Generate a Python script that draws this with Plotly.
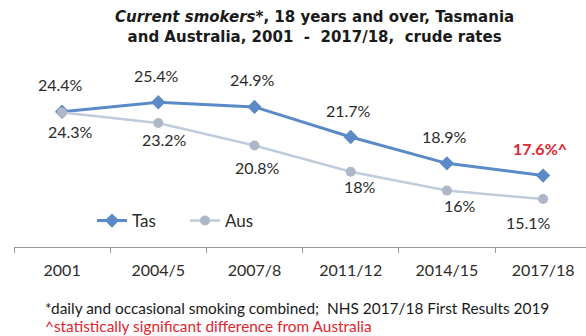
import plotly.graph_objects as go

# Survey periods and crude rates (%) of current smokers, 18 years and over
periods = ["2001", "2004/5", "2007/8", "2011/12", "2014/15", "2017/18"]
tas_rates = [24.4, 25.4, 24.9, 21.7, 18.9, 17.6]
aus_rates = [24.3, 23.2, 20.8, 18.0, 16.0, 15.1]
# Tasmanian estimates that differ significantly from Australia
tas_significant = [False, False, False, False, False, True]

# Offsets (px) for the Australian value labels
aus_label_dx = [8, 6, 3, 9, 13, -15]
aus_label_dy = [-19, -17, -22, -15, -15, -23]

TAS_COLOR = "#5A8BC6"
AUS_LINE = "#BFCCDB"
AUS_MARK = "#AEB7C7"
TEXT = "#2B2B2B"
RED = "#E0262E"
FONT = "Lato, 'Open Sans', sans-serif"
TITLE_FONT = "'DejaVu Sans', sans-serif"

# Plot area geometry (px) used to place paper-referenced text
PLOT_LEFT, PLOT_W, PLOT_BOTTOM, PLOT_H = 14, 572, 247, 188


def px_x(px):
    return (px - PLOT_LEFT) / PLOT_W


def px_y(py):
    return (PLOT_BOTTOM - py) / PLOT_H


fig = go.Figure()
fig.add_trace(go.Scatter(
    x=periods, y=tas_rates, name="Tas", mode="lines+markers",
    line=dict(color=TAS_COLOR, width=3),
    marker=dict(symbol="diamond", size=11, color=TAS_COLOR),
))
fig.add_trace(go.Scatter(
    x=periods, y=aus_rates, name="Aus", mode="lines+markers",
    line=dict(color=AUS_LINE, width=2.5),
    marker=dict(symbol="circle", size=10, color=AUS_MARK),
))

annotations = []
# Category positions are given by index so "2001" is not read as a number
for i, (v, sig) in enumerate(zip(tas_rates, tas_significant)):
    label = f"{v:g}%" + ("^" if sig else "")
    annotations.append(dict(
        x=i, y=v, xref="x", yref="y", text=f"<b>{label}</b>" if sig else label,
        showarrow=False, yshift=27, xshift=-3 if sig else -2,
        font=dict(family=FONT, size=16, color=RED if sig else TEXT),
    ))
for i, (v, dx, dy) in enumerate(zip(aus_rates, aus_label_dx, aus_label_dy)):
    annotations.append(dict(
        x=i, y=v, xref="x", yref="y", text=f"{v:g}%",
        showarrow=False, yshift=dy, xshift=dx,
        font=dict(family=FONT, size=16, color=TEXT),
    ))

# Chart title
annotations.append(dict(
    xref="paper", yref="paper", x=px_x(314), y=px_y(27), yanchor="middle",
    text="<b><i>Current smokers</i>*, 18 years and over, Tasmania<br>"
         "and Australia, 2001  -  2017/18,  crude rates</b>",
    showarrow=False, align="center",
    font=dict(family=TITLE_FONT, size=15, color="#1A1A1A"),
))
# Footnotes
annotations.append(dict(
    xref="paper", yref="paper", x=px_x(43), y=px_y(308),
    xanchor="left", yanchor="middle", showarrow=False, align="left",
    text="*daily and occasional smoking combined;  NHS 2017/18 First Results 2019",
    font=dict(family=FONT, size=15.4, color="#1A1A1A"),
))
annotations.append(dict(
    xref="paper", yref="paper", x=px_x(43), y=px_y(326),
    xanchor="left", yanchor="middle", showarrow=False, align="left",
    text="^statistically significant difference from Australia",
    font=dict(family=FONT, size=15.4, color=RED),
))

fig.update_layout(
    width=586, height=336,
    margin=dict(l=PLOT_LEFT, r=0, t=59, b=336 - PLOT_BOTTOM),
    paper_bgcolor="white", plot_bgcolor="white",
    showlegend=True,
    legend=dict(
        orientation="h", x=px_x(92), y=px_y(221),
        xanchor="left", yanchor="middle", bgcolor="rgba(0,0,0,0)",
        font=dict(family=FONT, size=17, color=TEXT),
        itemwidth=30, entrywidth=48, entrywidthmode="pixels",
    ),
    xaxis=dict(
        type="category", range=[-0.5, 5.446],
        showline=True, linecolor="#9A9A9A", linewidth=1.2,
        ticks="outside", tickson="boundaries", ticklen=5, tickcolor="#9A9A9A",
        showgrid=False, zeroline=False, ticklabelstandoff=9,
        tickfont=dict(family=FONT, size=16, color=TEXT),
    ),
    yaxis=dict(range=[10, 30], visible=False, showgrid=False),
    annotations=annotations,
)

fig.write_html("out.html")
